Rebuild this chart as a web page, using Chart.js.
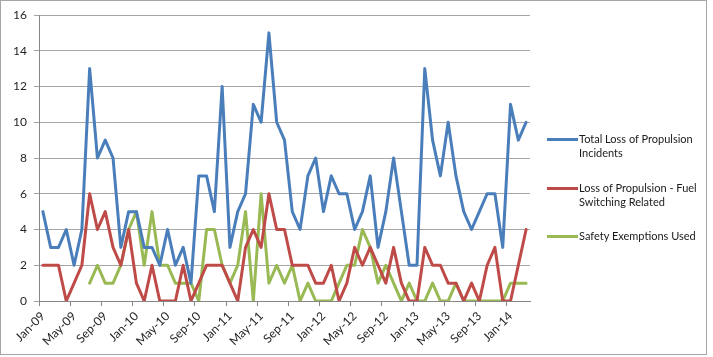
<!DOCTYPE html>
<html>
<head>
<meta charset="utf-8">
<script src="https://cdn.jsdelivr.net/npm/chart.js@4.4.1/dist/chart.umd.min.js"></script>
<style>
  html, body { margin: 0; padding: 0; background: #ffffff; }
  #wrap { position: relative; width: 713px; height: 357px; overflow: hidden; }
  #frame { position: absolute; left: 0; top: 0; width: 705px; height: 353px; border: 1px solid #a6a6a6; pointer-events: none; }
  canvas { position: absolute; left: 0; top: 0; }
  #legend { position: absolute; left: 0; top: 0; font-family: Lato, "Liberation Sans", sans-serif; font-size: 11px; color: #1a1a1a; }
  .entry { position: absolute; left: 547px; }
  .swatch { position: absolute; left: 0; width: 31px; height: 3px; }
  .label { position: absolute; left: 32px; width: 122px; line-height: 14px; white-space: normal; }
</style>
</head>
<body>
<div id="wrap">
  <canvas id="c" width="713" height="357"></canvas>
  <div id="frame"></div>
  <div id="legend"></div>
</div>
<script>
const categories = [
  "Jan-09","Feb-09","Mar-09","Apr-09","May-09","Jun-09","Jul-09","Aug-09","Sep-09","Oct-09","Nov-09","Dec-09",
  "Jan-10","Feb-10","Mar-10","Apr-10","May-10","Jun-10","Jul-10","Aug-10","Sep-10","Oct-10","Nov-10","Dec-10",
  "Jan-11","Feb-11","Mar-11","Apr-11","May-11","Jun-11","Jul-11","Aug-11","Sep-11","Oct-11","Nov-11","Dec-11",
  "Jan-12","Feb-12","Mar-12","Apr-12","May-12","Jun-12","Jul-12","Aug-12","Sep-12","Oct-12","Nov-12","Dec-12",
  "Jan-13","Feb-13","Mar-13","Apr-13","May-13","Jun-13","Jul-13","Aug-13","Sep-13","Oct-13","Nov-13","Dec-13",
  "Jan-14","Feb-14","Mar-14"
];

const totalLoss = [
  5,3,3,4,2,4,13,8,9,8,
  3,5,5,3,3,2,4,2,3,1,
  7,7,5,12,3,5,6,11,10,15,
  10,9,5,4,7,8,5,7,6,6,
  4,5,7,3,5,8,5,2,2,13,
  9,7,10,7,5,4,5,6,6,3,
  11,9,10
];

const fuelSwitching = [
  2,2,2,0,1,2,6,4,5,3,
  2,4,1,0,2,0,0,0,2,0,
  1,2,2,2,1,0,3,4,3,6,
  4,4,2,2,2,1,1,2,0,1,
  3,2,3,2,1,3,1,0,0,3,
  2,2,1,1,0,1,0,2,3,0,
  0,2,4
];

const exemptions = [
  null,null,null,null,null,null,1,2,1,1,
  2,4,5,2,5,2,2,1,1,1,
  0,4,4,2,1,2,5,0,6,1,
  2,1,2,0,1,0,0,0,1,2,
  2,4,3,1,2,1,0,1,0,0,
  1,0,0,1,0,0,0,0,0,0,
  1,1,1
];

const seriesNames = [
  "Total Loss of Propulsion Incidents",
  "Loss of Propulsion - Fuel Switching Related",
  "Safety Exemptions Used"
];
const seriesColors = ["#4a7ebb", "#be4b48", "#98b954"];

const yTicks = [0, 2, 4, 6, 8, 10, 12, 14, 16];

const FONT = { family: "Lato, 'Liberation Sans', sans-serif", size: 12 };

const chart = new Chart(document.getElementById("c"), {
  type: "line",
  data: {
    labels: categories,
    datasets: [totalLoss, fuelSwitching, exemptions].map((d, i) => ({
      label: seriesNames[i],
      data: d,
      borderColor: seriesColors[i],
      backgroundColor: seriesColors[i],
      borderWidth: 3,
      pointRadius: 0,
      pointHoverRadius: 0,
      tension: 0,
      fill: false,
      spanGaps: false,
      borderJoinStyle: "round",
      borderCapStyle: "round"
    }))
  },
  options: {
    responsive: false,
    animation: false,
    devicePixelRatio: 1,
    layout: { padding: { left: 0, top: 15, right: 183, bottom: 0 } },
    plugins: { legend: { display: false }, tooltip: { enabled: false } },
    scales: {
      x: {
        type: "category",
        offset: true,
        grid: {
          offset: true,
          drawOnChartArea: false,
          drawTicks: true,
          tickLength: 5,
          color: (ctx) => (ctx.index % 4 === 0 ? "#868686" : "rgba(0,0,0,0)")
        },
        border: { display: true, color: "#868686", width: 1 },
        ticks: {
          autoSkip: false,
          minRotation: 45,
          maxRotation: 45,
          padding: 3,
          color: "#262626",
          font: FONT,
          callback: function (val, idx) {
            return idx % 4 === 0 ? this.getLabelForValue(val) : "";
          }
        },
        afterFit: (s) => { s.height = 56; }
      },
      y: {
        min: yTicks[0],
        max: yTicks[yTicks.length - 1],
        afterBuildTicks: (s) => { s.ticks = yTicks.map(v => ({ value: v })); },
        grid: {
          color: "#a6a6a6",
          drawTicks: true,
          tickLength: 5
        },
        border: { display: true, color: "#868686", width: 1 },
        ticks: {
          padding: 7,
          color: "#262626",
          font: FONT
        },
        afterFit: (s) => { s.width = 39; }
      }
    }
  }
});

// HTML legend built from the series definitions
const legendTops = [139, 188, 236];
const legend = document.getElementById("legend");
seriesNames.forEach((name, i) => {
  const e = document.createElement("div");
  e.className = "entry";
  e.style.top = (legendTops[i] - 7) + "px";
  const sw = document.createElement("div");
  sw.className = "swatch";
  sw.style.top = "6px";
  sw.style.background = seriesColors[i];
  const lb = document.createElement("div");
  lb.className = "label";
  lb.style.top = "0px";
  lb.textContent = name;
  e.appendChild(sw);
  e.appendChild(lb);
  legend.appendChild(e);
});
</script>
</body>
</html>
